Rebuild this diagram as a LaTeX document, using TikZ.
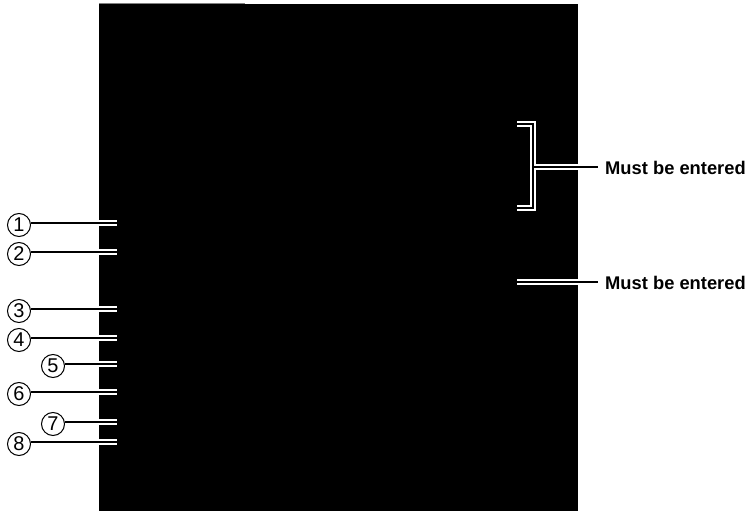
\documentclass[tikz,border=0pt]{standalone}
\usepackage{fontspec}
\setmainfont{Liberation Sans}
\tikzset{
  num/.style={circle,draw,line width=1bp,inner sep=0pt,minimum size=23bp,font=\fontsize{20}{20}\selectfont},
  note/.style={anchor=west,inner sep=0pt,font=\fontsize{18.4}{18.4}\selectfont\bfseries},
  halo/.style={white,line width=5.4bp},
  lead/.style={black,line width=1.8bp}
}
\begin{document}
\begin{tikzpicture}[x=1bp,y=-1bp]
  \useasboundingbox (0,0) rectangle (749,511);
  \fill[black] (99,4) rectangle (578,511);
  \draw[gray,line width=1bp] (99,3.5) -- (245,3.5);
  % circled numbers and their ends
  \node[num] (c1) at (19,225) {1};
  \node[num] (c2) at (19,254) {2};
  \node[num] (c3) at (19,311) {3};
  \node[num] (c4) at (19,340) {4};
  \node[num] (c5) at (53,366) {5};
  \node[num] (c6) at (19,394) {6};
  \node[num] (c7) at (53,424) {7};
  \node[num] (c8) at (19,444) {8};
  \foreach \n/\y in {1/223,2/252,3/309,4/338,5/364,6/392,7/422,8/442}
    \coordinate (e\n) at (117,\y);
  % right side notes
  \node[note] (t1) at (605,168) {Must be entered};
  \node[note] (t2) at (605,283) {Must be entered};
  \coordinate (b1) at (517,124);
  \coordinate (b2) at (533,124);
  \coordinate (b3) at (533,208);
  \coordinate (b4) at (517,208);
  \coordinate (b5) at (533,167);
  \coordinate (s1) at (598,167);
  \coordinate (s2) at (517,282);
  \coordinate (s3) at (598,282);
  % white edges first, then the black lines
  \foreach \s in {halo,lead} {
    \foreach \n in {1,...,8}
      \draw[\s] (e\n -| c\n.east) -- (e\n);
    \draw[\s,line cap=butt] (b1) -- (b2) -- (b3) -- (b4);
    \draw[\s] (b5) -- (s1);
    \draw[\s] (s2) -- (s3);
  }
\end{tikzpicture}
\end{document}
